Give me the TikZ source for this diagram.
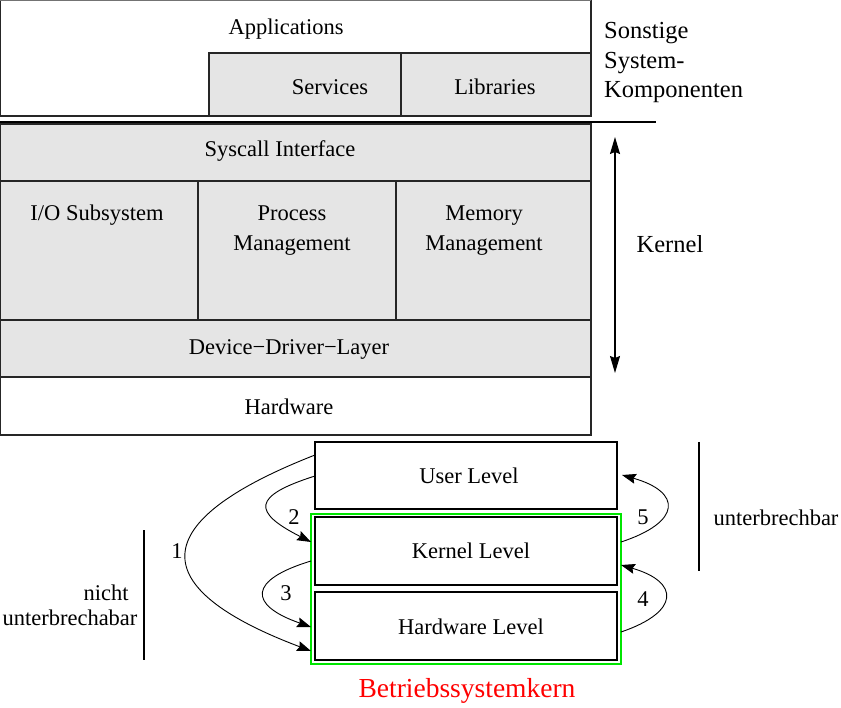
\documentclass[tikz,border=0pt]{standalone}
\usepackage{fontspec}
\setmainfont{Liberation Serif}
\usetikzlibrary{arrows.meta,calc}
\begin{document}
\begin{tikzpicture}[x=1pt,y=-1pt,
  every node/.style={font=\fontsize{22.5}{29.5}\selectfont},
  box/.style={draw=black!85,line width=1.1pt,inner sep=0pt,outer sep=0pt,anchor=north west},
  gbox/.style={box,fill=black!10},
  lvl/.style={draw=black,line width=1.3pt,inner sep=0pt,outer sep=0pt,anchor=north west},
  txt/.style={inner sep=0pt},
  big/.style={txt,font=\fontsize{24.5}{29.5}\selectfont},
  arr/.style={line width=0.9pt,-{Stealth[length=14pt,width=10pt,inset=2pt]}},
  darr/.style={line width=1.2pt,{Stealth[length=17pt,width=10pt,inset=2pt]}-{Stealth[length=17pt,width=10pt,inset=2pt]}}
]
\useasboundingbox (0,0) rectangle (841,708);
% top stack
\node[box,minimum width=591pt,minimum height=116pt] (app) at (0,0) {};
\draw[black!55,line width=2.5pt] (app.north west) -- (app.north east);
\node[gbox,minimum width=192pt,minimum height=63pt] (serv) at (209,53) {};
\node[gbox,minimum width=190pt,minimum height=63pt] (lib) at (401,53) {};
\node[txt] (tapp) at (286,29) {Applications};
\node[txt] (tserv) at (330,87) {Services};
\node[txt] (tlib) at (495,87) {Libraries};
\node[big,align=left,anchor=west] (tsonst) at (604,63) {Sonstige\\System-\\Komponenten};
\coordinate (sepL) at (0,122);
\coordinate (sepR) at (656,122);
\draw[line width=1.1pt] (sepL) -- (sepR);
\node[gbox,minimum width=591pt,minimum height=57pt] (sys) at (0,124) {};
\node[gbox,minimum width=198pt,minimum height=139pt] (io) at (0,181) {};
\node[gbox,minimum width=198pt,minimum height=139pt] (pm) at (198,181) {};
\node[gbox,minimum width=195pt,minimum height=139pt] (mm) at (396,181) {};
\node[gbox,minimum width=591pt,minimum height=57pt] (ddl) at (0,320) {};
\node[box,minimum width=591pt,minimum height=58pt] (hw) at (0,377) {};
\node[txt] (tsys) at (280,151) {Syscall Interface};
\node[txt] (tio) at (97,215) {I/O Subsystem};
\node[txt,align=center,anchor=north] (tpm) at (292,206) {Process\\Management};
\node[txt,align=center,anchor=north] (tmm) at (484,206) {Memory\\Management};
\node[txt] (tddl) at (289,349) {Device−Driver−Layer};
\node[txt] (thw) at (289,407) {Hardware};
\coordinate (kt) at (615,137);
\coordinate (kb) at (615,373);
\draw[darr] (kt) -- (kb);
\node[big] (tkern) at (670,244) {Kernel};
% bottom levels
\node[lvl,minimum width=302pt,minimum height=67pt] (ul) at (315,442) {};
\node[draw=green!90!black,line width=1.1pt,inner sep=0pt,outer sep=0pt,anchor=north west,minimum width=310pt,minimum height=150pt] (bsk) at (311,514) {};
\node[lvl,minimum width=302pt,minimum height=68pt] (kl) at (315,517) {};
\node[lvl,minimum width=302pt,minimum height=68pt] (hl) at (315,592) {};
\node[txt] (tul) at (469,476) {User Level};
\node[txt] (tkl) at (471,551) {Kernel Level};
\node[txt] (thl) at (471,627) {Hardware Level};
\node[txt,text=red,font=\fontsize{27.5}{30}\selectfont] (tbsk) at (467,691) {Betriebssystemkern};
% arrows
\draw[arr] (ul.west |- 0,455) .. controls (144,522) and (144,588) .. (bsk.west |- 0,651);
\draw[arr] (ul.west |- 0,476) .. controls (252,496) and (252,512) .. (bsk.west |- 0,542);
\draw[arr] (bsk.west |- 0,561) .. controls (248,580) and (248,605) .. (bsk.west |- 0,627);
\draw[arr] (bsk.east |- 0,542) .. controls (682,522) and (682,492) .. (622,475);
\draw[arr] (bsk.east |- 0,632) .. controls (680,612) and (680,582) .. (bsk.east |- 0,565);
\node[txt] (n1) at (177,551) {1};
\node[txt] (n2) at (294,517) {2};
\node[txt] (n3) at (286,593) {3};
\node[txt] (n4) at (643,599) {4};
\node[txt] (n5) at (643,517) {5};
% side brackets
\coordinate (lt) at (144,530);
\coordinate (lb) at (144,660);
\draw[line width=1.1pt] (lt) -- (lb);
\node[txt] (tnicht) at (106,593) {nicht};
\node[txt] (tnub) at (70,618) {unterbrechabar};
\coordinate (rt) at (699,442);
\coordinate (rb) at (699,571);
\draw[line width=1.1pt] (rt) -- (rb);
\node[txt] (tub) at (776,518) {unterbrechbar};
\end{tikzpicture}
\end{document}
